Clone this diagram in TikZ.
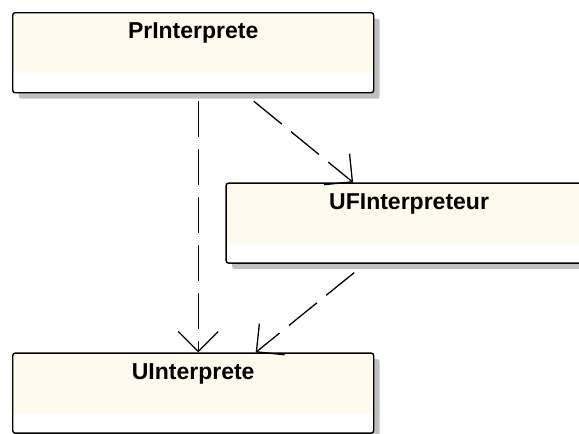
\documentclass[tikz,border=0pt]{standalone}
\usepackage{fontspec}
\setmainfont{Liberation Sans}
\usepackage{tikz}
\usetikzlibrary{
  arrows.meta, positioning, shadows
}
\usepackage{xcolor}
\definecolor{cream}{RGB}{255,250,238}
\definecolor{shadowgray}{RGB}{192,192,192}
\tikzset{
  classbox/.style={
    rectangle, rounded corners=2.5pt, draw=black, line width=1.4pt,
    inner xsep=0pt, inner ysep=0pt,
    minimum width=361pt, text height=26pt, text depth=54pt,
    fill=white, font=\fontsize{23}{26}\selectfont\bfseries,
    drop shadow={shadow xshift=6pt, shadow yshift=-6pt,
      fill=shadowgray, draw=none, opacity=1},
    path picture={
      \fill[cream] (path picture bounding box.north west)
        rectangle ([yshift=20pt]path picture bounding box.south east);
    }
  },
  depend/.style={
    -{Straight Barb[length=20pt, width=40pt]},
    line width=1.3pt, dash pattern=on 36pt off 12pt
  }
}

\begin{document}
\begin{tikzpicture}
  \useasboundingbox (0,0) rectangle (579pt,-434pt);

  \node[classbox, anchor=north west] (printerp) at (12pt,-12pt) {PrInterprete};
  \node[classbox, minimum width=366pt,
    below right=89pt and -149pt of printerp.south east] (ufinterp) {UFInterpreteur};
  \node[classbox, below=259pt of printerp] (uinterp) {UInterprete};

  \draw[depend, shorten <=8pt] ([xshift=5pt]printerp.south) -- ([xshift=5pt]uinterp.north);
  \draw[depend, shorten <=12.5pt] ([xshift=51pt]printerp.south) -- ([xshift=-56pt]ufinterp.north);
  \draw[depend, shorten <=14pt] ([xshift=-44pt]ufinterp.south) -- ([xshift=62.5pt]uinterp.north);
\end{tikzpicture}
\end{document}
